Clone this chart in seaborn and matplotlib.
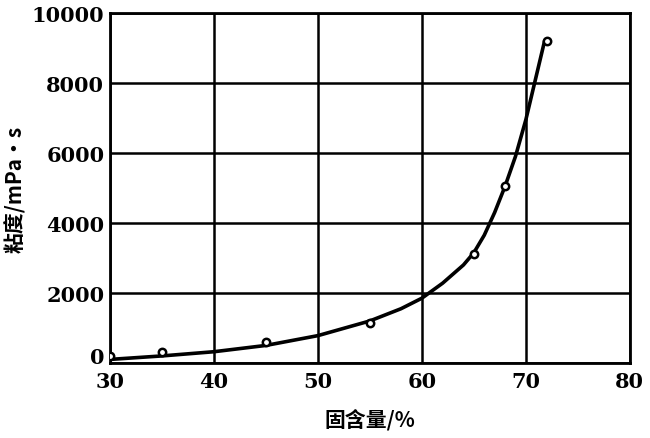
import numpy as np
import pandas as pd
import seaborn as sns
import matplotlib.pyplot as plt
import matplotlib.transforms as mtransforms

# measured points
solid = [30, 35, 45, 55, 65, 68, 72]
visc = [200, 320, 600, 1150, 3100, 5050, 9200]

# smooth fitted curve
curve_x = [30, 35, 40, 45, 50, 55, 58, 60, 62, 64, 65, 66, 67, 68, 69, 70, 71, 71.8]
curve_y = [100, 200, 320, 500, 780, 1200, 1550, 1850, 2280, 2800, 3150, 3650, 4300, 5050, 5900, 6950, 8200, 9200]

x_ticks = [30, 40, 50, 60, 70, 80]
y_ticks = [0, 2000, 4000, 6000, 8000, 10000]

sns.set_theme(style='white')
plt.rcParams['font.family'] = ['DejaVu Serif', 'Noto Sans CJK SC']

fig = plt.figure(figsize=(6.5, 4.39), dpi=100)
ax = fig.add_axes([0.169, 0.171, 0.8, 0.797])

pts = pd.DataFrame({'solid': solid, 'visc': visc})
cur = pd.DataFrame({'x': curve_x, 'y': curve_y})

sns.lineplot(data=cur, x='x', y='y', ax=ax, color='black', linewidth=2.6, zorder=3)
sns.scatterplot(data=pts, x='solid', y='visc', ax=ax, marker='o', s=28,
                facecolor='white', edgecolor='black', linewidth=1.8, zorder=4)

ax.set_xlim(30, 80)
ax.set_ylim(0, 10000)
ax.set_xticks(x_ticks)
ax.set_yticks(y_ticks)
ax.grid(True, color='black', linewidth=1.8)
ax.set_axisbelow(True)
for s in ax.spines.values():
    s.set_color('black')
    s.set_linewidth(2)
ax.tick_params(length=0, labelsize=15, colors='black', pad=4)
ax.tick_params(axis='x', pad=6)
for lbl in ax.get_xticklabels() + ax.get_yticklabels():
    lbl.set_fontweight('bold')

# lift the "0" label a little so it clears the "30"
zero = ax.get_yticklabels()[0]
zero.set_transform(zero.get_transform() +
                   mtransforms.ScaledTranslation(0, 8 / 100, fig.dpi_scale_trans))

ax.set_xlabel('固含量/%', fontsize=15, fontweight='bold', color='black',
              family=['Noto Sans CJK SC', 'DejaVu Serif'], labelpad=12)
ax.set_ylabel('粘度/mPa·s', fontsize=15, fontweight='bold', color='black',
              family=['Noto Sans CJK SC', 'DejaVu Serif'], labelpad=4)

fig.savefig('out.png', dpi=100)
